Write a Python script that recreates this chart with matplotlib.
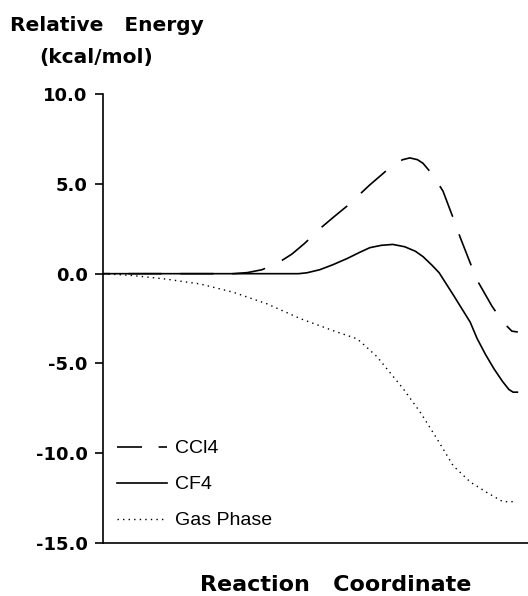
import matplotlib
matplotlib.use("Agg")
import matplotlib.pyplot as plt
from matplotlib.lines import Line2D

# reaction coordinate (0 = left axis, 1 = right edge of the axes)
x_ccl4 = [0.00, 0.10, 0.20, 0.306, 0.34, 0.374, 0.412, 0.445, 0.475, 0.515,
          0.545, 0.576, 0.628, 0.682, 0.705, 0.722, 0.740, 0.753, 0.776,
          0.80, 0.824, 0.84, 0.864, 0.88, 0.915, 0.941, 0.962, 0.976]
y_ccl4 = [0.0, 0.0, 0.0, 0.0, 0.06, 0.22, 0.6, 1.1, 1.7, 2.6,
          3.2, 3.8, 4.95, 6.05, 6.35, 6.45, 6.35, 6.15, 5.5,
          4.6, 3.1, 2.05, 0.6, -0.35, -1.8, -2.7, -3.2, -3.25]

x_cf4 = [0.00, 0.10, 0.20, 0.30, 0.40, 0.46, 0.48, 0.51, 0.541, 0.575,
         0.605, 0.628, 0.655, 0.682, 0.710, 0.735, 0.753, 0.775, 0.791,
         0.826, 0.864, 0.88, 0.90, 0.92, 0.94, 0.955, 0.965, 0.975]
y_cf4 = [0.0, 0.0, 0.0, 0.0, 0.0, 0.0, 0.05, 0.22, 0.5, 0.85,
         1.2, 1.45, 1.58, 1.63, 1.5, 1.25, 0.95, 0.45, 0.05,
         -1.25, -2.7, -3.6, -4.5, -5.3, -6.0, -6.45, -6.6, -6.6]

x_gas = [0.00, 0.068, 0.148, 0.228, 0.306, 0.386, 0.464, 0.541, 0.598,
         0.616, 0.645, 0.668, 0.706, 0.746, 0.786, 0.824, 0.864, 0.904,
         0.941, 0.969]
y_gas = [0.0, -0.1, -0.3, -0.57, -1.03, -1.68, -2.5, -3.17, -3.63,
         -4.0, -4.63, -5.3, -6.4, -7.7, -9.2, -10.7, -11.6, -12.2,
         -12.7, -12.7]

labels = ["CCl4", "CF4", "Gas Phase"]
yticks = [10.0, 5.0, 0.0, -5.0, -10.0, -15.0]

fig = plt.figure(figsize=(5.28, 5.96), dpi=100)
ax = fig.add_axes([0.195, 0.089, 0.805, 0.753])

ax.plot(x_ccl4, y_ccl4, color="black", lw=1.2, linestyle=(16, (20, 11.2)))
ax.plot(x_cf4, y_cf4, color="black", lw=1.2)
ax.plot(x_gas, y_gas, color="black", lw=1.0, dashes=(1, 3))

ax.set_xlim(0, 1)
ax.set_ylim(-15, 10)
ax.set_yticks(yticks)
ax.set_yticklabels(["%.1f" % v for v in yticks], fontsize=13, fontweight="bold",
                   family="DejaVu Sans")
ax.set_xticks([])
ax.tick_params(axis="y", direction="out", length=6, width=1.2, pad=5)
ax.spines["top"].set_visible(False)
ax.spines["right"].set_visible(False)
ax.spines["left"].set_linewidth(1.2)
ax.spines["bottom"].set_linewidth(1.2)

fig.text(0.019, 0.958, "Relative   Energy", fontsize=14.5, fontweight="bold",
         family="DejaVu Sans", ha="left", va="center")
fig.text(0.075, 0.903, "(kcal/mol)", fontsize=14.5, fontweight="bold",
         family="DejaVu Sans", ha="left", va="center")
fig.text(0.635, 0.018, "Reaction   Coordinate", fontsize=16, fontweight="bold",
         family="DejaVu Sans", ha="center", va="center")

# legend handles: the dashed one shows a long dash then a short one
handles = [Line2D([], [], color="black", lw=1.2, linestyle=(0, (15, 10))),
           Line2D([], [], color="black", lw=1.2),
           Line2D([], [], color="black", lw=1.0, dashes=(1, 3))]
leg = ax.legend(handles, labels, loc="lower left", frameon=False,
                handlelength=2.55, labelspacing=0.95, handletextpad=0.45,
                prop={"family": "Liberation Sans", "size": 14},
                bbox_to_anchor=(-0.008, -0.009))

fig.savefig("out.png", dpi=100)
